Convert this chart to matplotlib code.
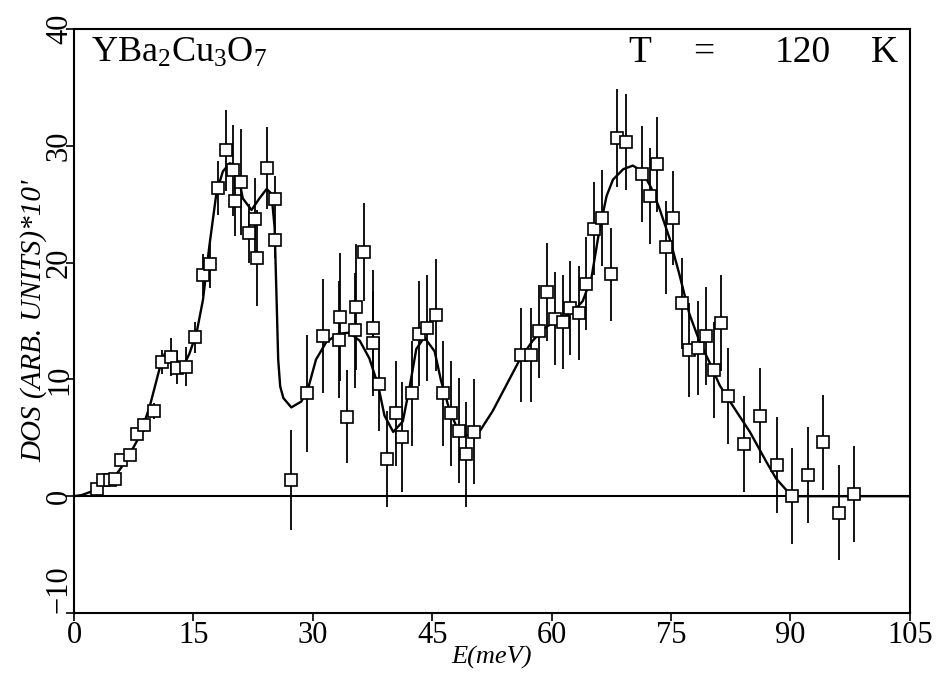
import matplotlib
matplotlib.use("Agg")
import matplotlib.pyplot as plt
import numpy as np

# Measured density of states (E in meV, DOS in arb. units x 10^4) with errors
energy = [2.9, 3.6, 4.5, 5.1, 5.95, 7.0, 7.9, 8.8, 10.0, 11.0, 12.2, 12.9, 14.1,
          15.2, 16.2, 17.1, 18.1, 19.1, 20.0, 20.2, 21.0, 22.0, 22.7, 23.0, 24.2,
          25.2, 25.3, 27.2, 29.3, 31.3, 33.4, 33.3, 34.3, 35.4, 35.3, 36.4, 37.5,
          37.5, 38.3, 39.3, 40.4, 41.2, 42.4, 43.3, 44.4, 45.5, 46.3, 47.4, 48.3,
          49.3, 50.2, 56.1, 57.4, 58.4, 59.4, 60.4, 61.4, 62.3, 63.4, 64.3, 65.3,
          66.3, 67.4, 68.2, 69.4, 71.4, 72.4, 73.2, 74.4, 75.3, 76.4, 77.2, 78.4,
          79.4, 80.4, 81.3, 82.2, 84.2, 86.2, 88.3, 90.2, 92.2, 94.1, 96.1, 98.0]
dos = [0.6, 1.35, 1.4, 1.5, 3.1, 3.5, 5.3, 6.1, 7.3, 11.5, 11.9, 11.0, 11.1,
       13.6, 18.9, 19.9, 26.4, 29.6, 27.9, 25.3, 26.9, 22.5, 23.7, 20.4, 28.1,
       25.4, 21.9, 1.4, 8.8, 13.7, 15.35, 13.4, 6.8, 16.2, 14.2, 20.9, 14.4,
       13.1, 9.6, 3.2, 7.1, 5.1, 8.8, 13.9, 14.4, 15.5, 8.8, 7.1, 5.6,
       3.6, 5.5, 12.1, 12.1, 14.1, 17.5, 15.2, 14.9, 16.1, 15.7, 18.2, 22.9,
       23.8, 19.0, 30.7, 30.3, 27.6, 25.7, 28.4, 21.3, 23.8, 16.5, 12.5, 12.7,
       13.7, 10.8, 14.8, 8.6, 4.5, 6.9, 2.7, 0.0, 1.8, 4.6, -1.4, 0.2]
dos_err = [0.3, 0.3, 0.3, 0.3, 0.4, 0.4, 0.5, 0.6, 0.7, 1.0, 1.6, 1.4, 1.7,
           1.3, 1.8, 2.1, 2.3, 3.5, 3.9, 3.0, 4.5, 2.5, 3.5, 4.1, 3.5,
           2.0, 1.5, 4.3, 5.0, 4.9, 5.5, 5.0, 4.0, 5.4, 4.9, 4.2, 5.0,
           4.5, 4.0, 4.1, 4.5, 4.7, 4.5, 4.5, 4.5, 4.8, 4.5, 4.5, 4.5,
           4.5, 4.5, 4.0, 4.0, 4.0, 4.2, 4.0, 4.0, 4.0, 4.0, 4.0, 4.0,
           4.1, 4.0, 4.2, 4.1, 4.1, 4.1, 4.1, 4.0, 4.0, 3.9, 4.0, 4.0,
           4.2, 4.1, 4.1, 4.1, 4.1, 4.1, 4.1, 4.1, 4.1, 4.1, 4.1, 4.1]

# Fitted model curve
fit_energy = [0, 1.0, 2.4, 4.9, 6.6, 8.25, 9.5, 10.8, 11.4, 12.0, 12.7, 13.7,
              14.5, 15.4, 16.2, 17.0, 17.9, 18.7, 19.55, 20.4, 21.2, 22.3, 23.3,
              24.2, 24.8, 25.2, 25.45, 25.65, 25.9, 26.3, 27.3, 28.55, 29.4, 30.4,
              31.7, 33.2, 34.6, 35.9, 37.1, 38.2, 39.0, 40.1, 41.3, 42.2, 43.0,
              44.0, 45.3, 46.1, 47.2, 48.4, 49.5, 51.0, 52.6, 54.3, 56.0, 57.6,
              59.3, 61.0, 62.7, 63.9, 65.0, 66.0, 66.9, 67.7, 69.0, 70.2, 71.4,
              72.5, 73.5, 74.8, 76.0, 77.3, 78.6, 79.8, 81.1, 82.3, 84.9, 87.0,
              88.2, 89.9, 90.5, 105.0]
fit_dos = [0, 0.1, 0.45, 1.45, 3.1, 5.15, 7.65, 11.05, 12.2, 12.1, 11.8, 11.1,
           12.2, 14.0, 16.8, 21.4, 26.0, 27.8, 28.5, 28.3, 25.5, 24.5, 25.5,
           26.3, 25.9, 23.0, 16.8, 11.7, 9.4, 8.4, 7.6, 8.1, 9.2, 11.7,
           13.2, 13.9, 14.0, 13.3, 11.8, 9.5, 6.9, 5.5, 6.4, 9.5, 12.6,
           13.6, 12.4, 9.9, 7.3, 5.4, 5.2, 5.6, 7.3, 9.5, 11.7, 13.3,
           14.5, 15.1, 15.8, 16.7, 18.7, 22.8, 25.7, 27.1, 28.0, 28.3, 27.8,
           26.4, 24.7, 22.1, 19.1, 15.6, 13.2, 11.5, 9.5, 8.2, 5.5, 2.9,
           1.5, 0.2, 0.0, 0.0]

x_ticks = [0, 15, 30, 45, 60, 75, 90, 105]
y_ticks = [-10, 0, 10, 20, 30, 40]

serif = ["Liberation Serif", "DejaVu Serif"]
plt.rcParams["mathtext.fontset"] = "custom"
plt.rcParams["mathtext.rm"] = "Liberation Serif"
plt.rcParams["mathtext.it"] = "Liberation Serif:italic"

fig = plt.figure(figsize=(9.51, 6.78), dpi=100)
ax = fig.add_axes([0.0778, 0.0959, 0.879, 0.8614])

ax.axhline(0, color="black", lw=1.5, zorder=1)
ax.plot(fit_energy, fit_dos, color="black", lw=1.7, zorder=2)
ax.errorbar(energy, dos, yerr=dos_err, fmt="s", ms=8, mfc="white", mec="black",
            mew=1.2, ecolor="black", elinewidth=1.3, capsize=0, zorder=3)

ax.set_xlim(0, 105)
ax.set_ylim(-10, 40)
ax.set_xticks(x_ticks)
ax.set_yticks(y_ticks)
ax.set_xticklabels([str(t) for t in x_ticks], family=serif, fontsize=22)
ylabels = ax.set_yticklabels(["\u221210", "0", "10", "20", "30", "40"],
                             family=serif, fontsize=22, rotation=90, va="center")
ylabels[0].set_va("bottom")
ax.tick_params(axis="x", direction="out", length=6, width=1.2, pad=0)
ax.tick_params(axis="y", direction="out", length=6, width=1.2, pad=-6)
for s in ax.spines.values():
    s.set_linewidth(1.5)

ax.set_xlabel("E(meV)", family=serif, style="italic", fontsize=19, labelpad=-3)
ax.set_ylabel("DOS (ARB. UNITS)*10'", family=serif, style="italic",
              fontsize=21, labelpad=-2)

ax.text(0.02, 0.9435, "YBa$_2$Cu$_3$O$_7$", transform=ax.transAxes,
        family=serif, fontsize=26, va="baseline", ha="left")
title_parts = [("T", 0.663, "left"), ("=", 0.753, "center"),
               ("120", 0.872, "center"), ("K", 0.986, "right")]
for txt, xpos, align in title_parts:
    ax.text(xpos, 0.9435, txt, transform=ax.transAxes, family=serif,
            fontsize=27, va="baseline", ha=align)

fig.savefig("out.png", dpi=100)
